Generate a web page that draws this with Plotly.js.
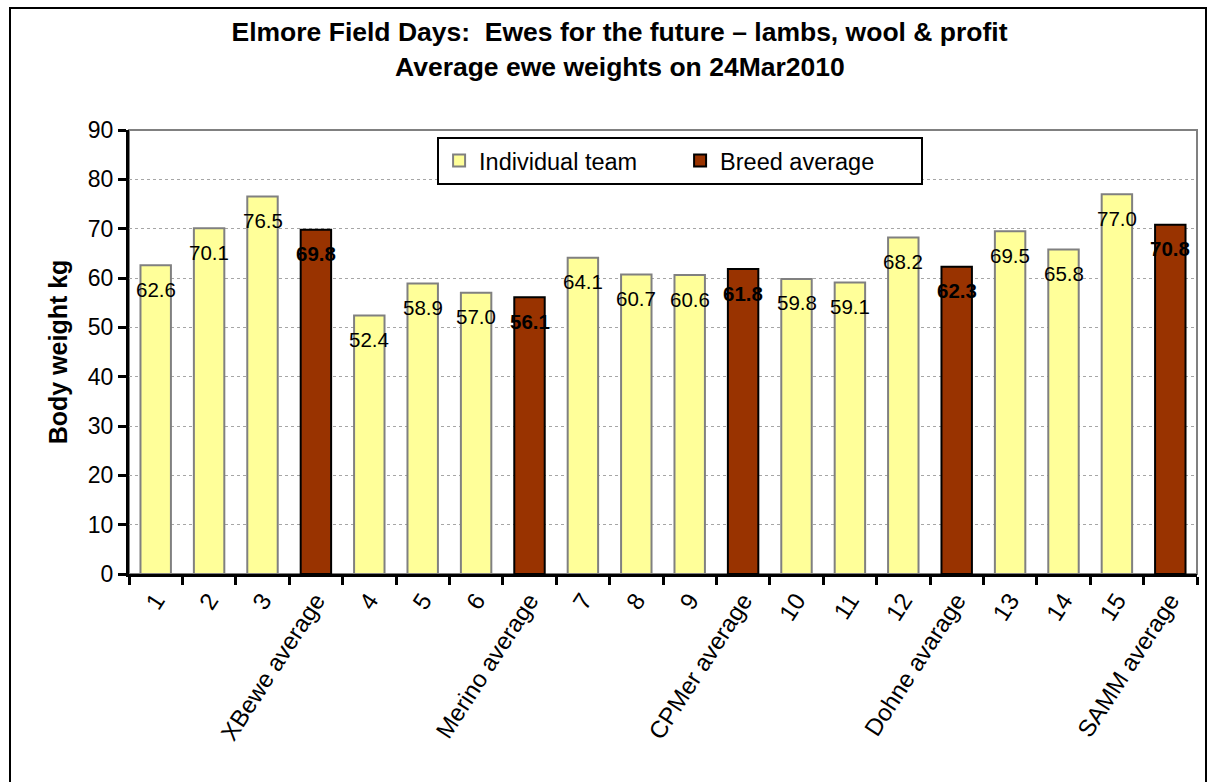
<!DOCTYPE html>
<html>
<head>
<meta charset="utf-8">
<script src="https://cdn.plot.ly/plotly-3.0.1.min.js"></script>
<style>
html,body{margin:0;padding:0;background:#fff;}
#chart{width:1210px;height:782px;}
#frame{position:absolute;left:9px;top:7px;width:1194px;height:800px;border:2px solid #000;pointer-events:none;}
</style>
</head>
<body>
<div id="chart"></div>
<div id="frame"></div>
<script>
const categories = ["1","2","3","XBewe average","4","5","6","Merino average","7","8","9","CPMer average","10","11","12","Dohne avarage","13","14","15","SAMM average"];
const individualTeam = [62.6,70.1,76.5,null,52.4,58.9,57.0,null,64.1,60.7,60.6,null,59.8,59.1,68.2,null,69.5,65.8,77.0,null];
const breedAverage = [null,null,null,69.8,null,null,null,56.1,null,null,null,61.8,null,null,null,62.3,null,null,null,70.8];

const titleLine1 = "Elmore Field Days:  Ewes for the future \u2013 lambs, wool & profit";
const titleLine2 = "Average ewe weights on 24Mar2010";

const FONT = "Liberation Sans, Arial, sans-serif";

const traces = [
  {type:"bar", name:"Individual team", x:categories, y:individualTeam, width:0.57,
   marker:{color:"#FFFF99", line:{color:"#808080", width:2}}, hoverinfo:"x+y"},
  {type:"bar", name:"Breed average", x:categories, y:breedAverage, width:0.57,
   marker:{color:"#993300", line:{color:"#000000", width:2}}, hoverinfo:"x+y"}
];

const annotations = [];
categories.forEach((c,i)=>{
  if(individualTeam[i]!==null){
    annotations.push({x:i, y:individualTeam[i], xref:"x", yref:"y", text:individualTeam[i].toFixed(1),
      showarrow:false, yshift:-24, yanchor:"middle", font:{family:FONT, size:20.5, color:"#000"}});
  }
  if(breedAverage[i]!==null){
    annotations.push({x:i, y:breedAverage[i], xref:"x", yref:"y", text:"<b>"+breedAverage[i].toFixed(1)+"</b>",
      showarrow:false, yshift:-24, yanchor:"middle", font:{family:FONT, size:20.5, color:"#000"}});
  }
});
annotations.push({xref:"paper", yref:"paper", x:0.46, y:1.0, yshift:63, xanchor:"center", yanchor:"middle",
  text:"<b>"+titleLine2+"</b>", showarrow:false, font:{family:FONT, size:26.5, color:"#000"}});

const layout = {
  width:1210, height:782,
  margin:{l:129, r:13, t:130, b:208, pad:0},
  paper_bgcolor:"#fff", plot_bgcolor:"#fff",
  font:{family:FONT, color:"#000"},
  title:{text:"<b>"+titleLine1+"</b>", xref:"container", x:0.512, xanchor:"center", y:0.959, yanchor:"middle",
    font:{family:FONT, size:26.5, color:"#000"}},
  barmode:"overlay",
  showlegend:true,
  legend:{orientation:"h", x:0.516, xanchor:"center", y:0.985, yanchor:"top",
    bordercolor:"#000", borderwidth:2, bgcolor:"#fff", font:{family:FONT, size:23.5, color:"#000"},
    itemwidth:30, entrywidth:196, entrywidthmode:"pixels", traceorder:"normal"},
  xaxis:{type:"category", showgrid:false, showline:true, linecolor:"#000", linewidth:3,
    ticks:"outside", tickson:"boundaries", ticklen:8, tickwidth:3, tickcolor:"#000",
    tickangle:-57, tickfont:{family:FONT, size:24, color:"#000"}, zeroline:false, fixedrange:true},
  yaxis:{range:[0,90], dtick:10, tick0:0, showline:true, linecolor:"#000", linewidth:3,
    ticks:"outside", ticklen:8, tickwidth:3, tickcolor:"#000",
    tickfont:{family:FONT, size:23, color:"#000"},
    showgrid:true, gridcolor:"#a6a6a6", griddash:"dot", gridwidth:1, zeroline:false,
    title:{text:"<b>Body weight kg</b>", font:{family:FONT, size:25, color:"#000"}, standoff:14},
    fixedrange:true},
  shapes:[{type:"rect", xref:"paper", yref:"paper", x0:0, x1:1, y0:0, y1:1,
    line:{color:"#808080", width:2}, layer:"below"}],
  annotations:annotations
};

Plotly.newPlot("chart", traces, layout, {displayModeBar:false});
</script>
</body>
</html>
